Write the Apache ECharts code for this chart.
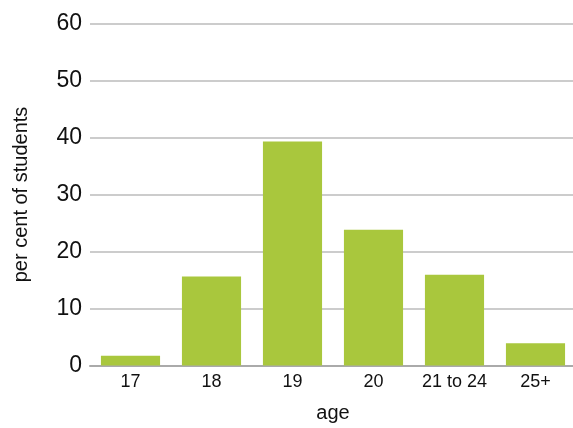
<!DOCTYPE html>
<html>
<head>
<meta charset="utf-8">
<script src="https://cdn.jsdelivr.net/npm/echarts@6/dist/echarts.min.js"></script>
<style>
  html, body { margin: 0; padding: 0; background: #fff; }
  #chart { width: 573px; height: 428px; }
</style>
</head>
<body>
<div id="chart"></div>
<script>
const ages = ['17', '18', '19', '20', '21 to 24', '25+'];
const percentStudents = [1.7, 15.6, 39.3, 23.8, 15.9, 3.9];
const yTicks = [0, 10, 20, 30, 40, 50, 60];

const chart = echarts.init(document.getElementById('chart'));
const font = '"Liberation Sans", Arial, sans-serif';

chart.setOption({
  animation: false,
  grid: {
    left: 90, right: -3, top: 23.5, bottom: 62.5,
    containLabel: false,
    outerBoundsMode: 'none'
  },
  xAxis: {
    type: 'category',
    data: ages,
    name: 'age',
    nameLocation: 'middle',
    nameGap: 38,
    nameTextStyle: { fontFamily: font, fontSize: 20, color: '#111' },
    axisLine: { lineStyle: { color: '#aaaaaa', width: 2 } },
    axisTick: { show: false },
    axisLabel: {
      interval: 0, hideOverlap: false,
      fontFamily: font, fontSize: 18, color: '#111', margin: 8
    }
  },
  yAxis: {
    type: 'value',
    min: yTicks[0],
    max: yTicks[yTicks.length - 1],
    interval: 10,
    name: 'per cent of students',
    nameLocation: 'middle',
    nameGap: 59,
    nameTextStyle: { fontFamily: font, fontSize: 20, color: '#111' },
    axisLine: { show: false },
    axisTick: { show: false },
    axisLabel: { fontFamily: font, fontSize: 23, color: '#111', margin: 8 },
    splitLine: { lineStyle: { color: '#cccccc', width: 2 } }
  },
  series: [{
    type: 'bar',
    data: percentStudents,
    barCategoryGap: '27%',
    itemStyle: { color: '#a9c73d' }
  }]
});
</script>
</body>
</html>
